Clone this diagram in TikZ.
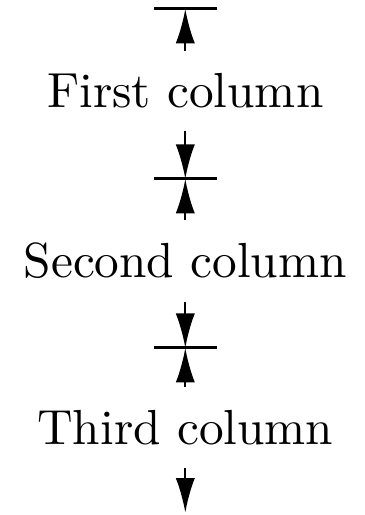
\documentclass[tikz,border=0pt]{standalone}
\usetikzlibrary{arrows.meta}
\begin{document}
\begin{tikzpicture}
[
    col/.style={anchor=base},
    rule/.style={line width=0.6pt},
    sep/.style={line width=0.45pt, -{Latex[length=7pt,width=3.9pt]}, shorten <=1.1pt}
]
    \useasboundingbox (0,0) rectangle (74pt,-104.5pt);
    \node [col] (first) at (37.6pt,-21.9pt) {First column};
    \node [col] (second) at (37.6pt,-56.4pt) {Second column};
    \node [col] (third) at (37.6pt,-90.2pt) {Third column};
    \coordinate (top) at (37.6pt,-1.8pt);
    \coordinate (midA) at (37.6pt,-36.3pt);
    \coordinate (midB) at (37.6pt,-70.6pt);
    \coordinate (end) at (37.6pt,-104pt);
    \foreach \b in {top,midA,midB}
        \draw [rule] ([xshift=-6.4pt]\b) -- ([xshift=6.4pt]\b);
    \draw [sep] (first.north) -- (top);
    \draw [sep] (first.south) -- (midA);
    \draw [sep] (second.north) -- (midA);
    \draw [sep] (second.south) -- (midB);
    \draw [sep] (third.north) -- (midB);
    \draw [sep] (third.south) -- (end);
\end{tikzpicture}
\end{document}
